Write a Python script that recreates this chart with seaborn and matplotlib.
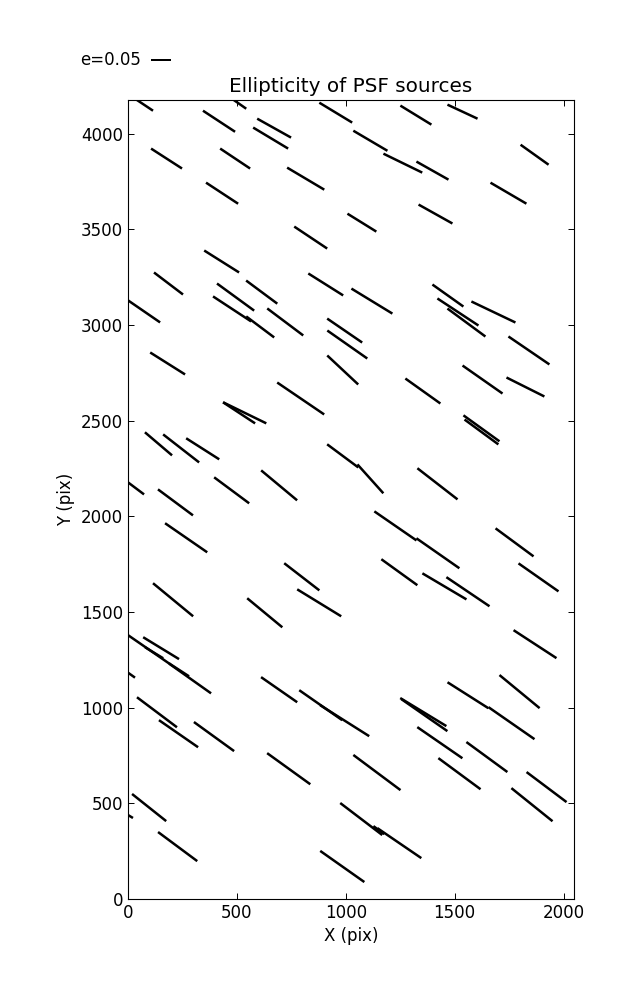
import numpy as np
import pandas as pd
import matplotlib
matplotlib.use("Agg")
import matplotlib.pyplot as plt
import seaborn as sns

# ---- data: PSF source positions (pix), ellipticity and display angle (deg) ----
x_pix = [53, 418, 497, 671, 655, 954, 177, 492, 816, 432,
         1074, 839, 430, 186, 908, 1322, 1536, 1113, 1262, 1398,
         1867, 1747, 1412, 74, 494, 478, 607, 614, 722, 995,
         1007, 986, 182, 793, 536, 510, 140, 244, 343, 986,
         1113, 37, 218, 476, 694, 1120, 1515, 1469, 1554, 1678,
         1841, 1628, 1825, 1354, 1623, 1623, 1421, 267, 207, 798,
         878, 628, 97, 287, 120, 234, 152, 0, 133, 694,
         885, 995, 1228, 1423, 1775, 1885, 1246, 1453, 1561, 1869,
         1561, 1761, 1798, 1356, 1361, 232, 395, 738, 97, 0,
         228, 1071, 984, 1432, 1648, 1922, 1143, 1522, 1855, 1246,
         1152]
y_pix = [4167, 4065, 4167, 4029, 3977, 4110, 3870, 3870, 3765, 3689,
         3535, 3457, 3332, 3217, 3212, 4097, 4115, 3963, 3846, 3807,
         3890, 3689, 3580, 3071, 3146, 3084, 2990, 3172, 3016, 2971,
         2898, 2765, 2799, 2616, 2541, 2541, 2379, 2355, 2353, 2316,
         2196, 2146, 2073, 2136, 2162, 3125, 3068, 3154, 3013, 3068,
         2867, 2715, 2676, 2655, 2460, 2441, 2170, 1888, 1564, 1684,
         1548, 1496, 1303, 1151, 1287, 1198, 1311, 1183, 976, 1094,
         1013, 932, 1950, 1807, 1864, 1681, 1708, 1634, 1606, 1332,
         1065, 919, 1084, 977, 961, 864, 849, 681, 478, 439,
         274, 418, 170, 817, 742, 585, 661, 655, 493, 292,
         360]
ellipticity = [0.081, 0.096, 0.061, 0.097, 0.102, 0.096, 0.092, 0.090, 0.108, 0.096,
               0.085, 0.099, 0.103, 0.091, 0.103, 0.091, 0.083, 0.099, 0.108, 0.092,
               0.086, 0.104, 0.097, 0.097, 0.115, 0.114, 0.0875, 0.097, 0.1125, 0.106,
               0.122, 0.106, 0.103, 0.142, 0.120, 0.096, 0.089, 0.114, 0.098, 0.097,
               0.097, 0.050, 0.109, 0.109, 0.117, 0.120, 0.123, 0.095, 0.118, 0.122,
               0.124, 0.122, 0.106, 0.1075, 0.111, 0.105, 0.127, 0.128, 0.130, 0.111,
               0.129, 0.114, 0.128, 0.126, 0.053, 0.060, 0.105, 0.043, 0.125, 0.110,
               0.131, 0.145, 0.128, 0.131, 0.118, 0.122, 0.111, 0.128, 0.130, 0.128,
               0.121, 0.140, 0.130, 0.135, 0.140, 0.119, 0.124, 0.133, 0.109, 0.029,
               0.122, 0.132, 0.135, 0.137, 0.127, 0.125, 0.147, 0.131, 0.132, 0.133,
               0.034]
angle_deg = [-33.7, -33.3, -35.0, -29.2, -31.0, -31.2, -32.8, -33.7, -30.7, -33.3,
             -31.8, -33.7, -32.2, -37.2, -32.2, -31.5, -25.0, -30.5, -26.0, -29.4,
             -35.5, -30.3, -29.2, -34.5, -36.1, -33.3, -36.9, -36.6, -36.9, -34.4,
             -35.0, -43.1, -32.2, -34.2, -26.0, -33.3, -40.4, -37.9, -32.5, -36.6,
             -48.1, -36.9, -36.6, -36.6, -39.8, -31.4, -33.4, -35.4, -36.4, -25.5,
             -34.3, -35.0, -26.6, -35.5, -35.8, -36.3, -37.8, -34.6, -39.5, -37.7,
             -31.5, -39.6, -34.6, -35.3, -31.4, -33.0, -31.4, -35.5, -36.9, -34.8,
             -34.9, -32.3, -34.6, -34.9, -36.4, -35.0, -35.8, -30.6, -34.0, -33.1,
             -32.4, -34.8, -39.5, -31.3, -34.8, -34.7, -35.9, -35.8, -38.5, -31.0,
             -36.6, -37.3, -35.2, -34.6, -36.2, -36.9, -36.7, -36.4, -38.8, -34.3,
             -36.0]

key_e = 0.05
key_label = "e=0.05"
title_text = "Ellipticity of PSF sources"
x_label = "X (pix)"
y_label = "Y (pix)"
x_ticks = [0, 500, 1000, 1500, 2000]
y_ticks = [0, 500, 1000, 1500, 2000, 2500, 3000, 3500, 4000]
x_max = 2048
y_max = 4176

# ---- style ----
sns.set_theme(style="ticks", rc={
    "axes.edgecolor": "black",
    "axes.linewidth": 0.8,
    "xtick.direction": "in",
    "ytick.direction": "in",
    "xtick.top": True,
    "ytick.right": True,
    "xtick.major.size": 4,
    "ytick.major.size": 4,
    "xtick.major.width": 0.7,
    "ytick.major.width": 0.7,
    "xtick.color": "black",
    "ytick.color": "black",
    "text.color": "black",
    "axes.labelcolor": "black",
    "font.size": 12,
    "axes.labelsize": 12,
    "xtick.labelsize": 12,
    "ytick.labelsize": 12,
    "axes.titlesize": 14.4,
})
plt.rcParams["font.family"] = ["DejaVu Sans"]

df = pd.DataFrame({"x": x_pix, "y": y_pix, "e": ellipticity, "theta": angle_deg})
rad = np.deg2rad(df["theta"].to_numpy())
df["u"] = df["e"] * np.cos(rad)
df["v"] = df["e"] * np.sin(rad)

fig = plt.figure(figsize=(6.37, 10), dpi=100, facecolor="white")
ax = fig.add_axes([128 / 637, 0.101, 446 / 637, 0.799])

Q = ax.quiver(df["x"], df["y"], df["u"], df["v"], angles="uv", pivot="middle",
              scale=0.25, scale_units="inches", units="dots", width=2.5,
              headwidth=0, headlength=0, headaxislength=0, color="black")
ax.quiverkey(Q, 151 / 637, 0.94, key_e, key_label, labelpos="W",
             coordinates="figure", fontproperties={"size": 12})

ax.set_xlim(0, x_max)
ax.set_ylim(0, y_max)
ax.set_xticks(x_ticks)
ax.set_yticks(y_ticks)
ax.set_xlabel(x_label)
ax.set_ylabel(y_label)
ax.set_title(title_text)
for s in ax.spines.values():
    s.set_visible(True)
    s.set_color("black")

fig.savefig("out.png", dpi=100, facecolor="white")
